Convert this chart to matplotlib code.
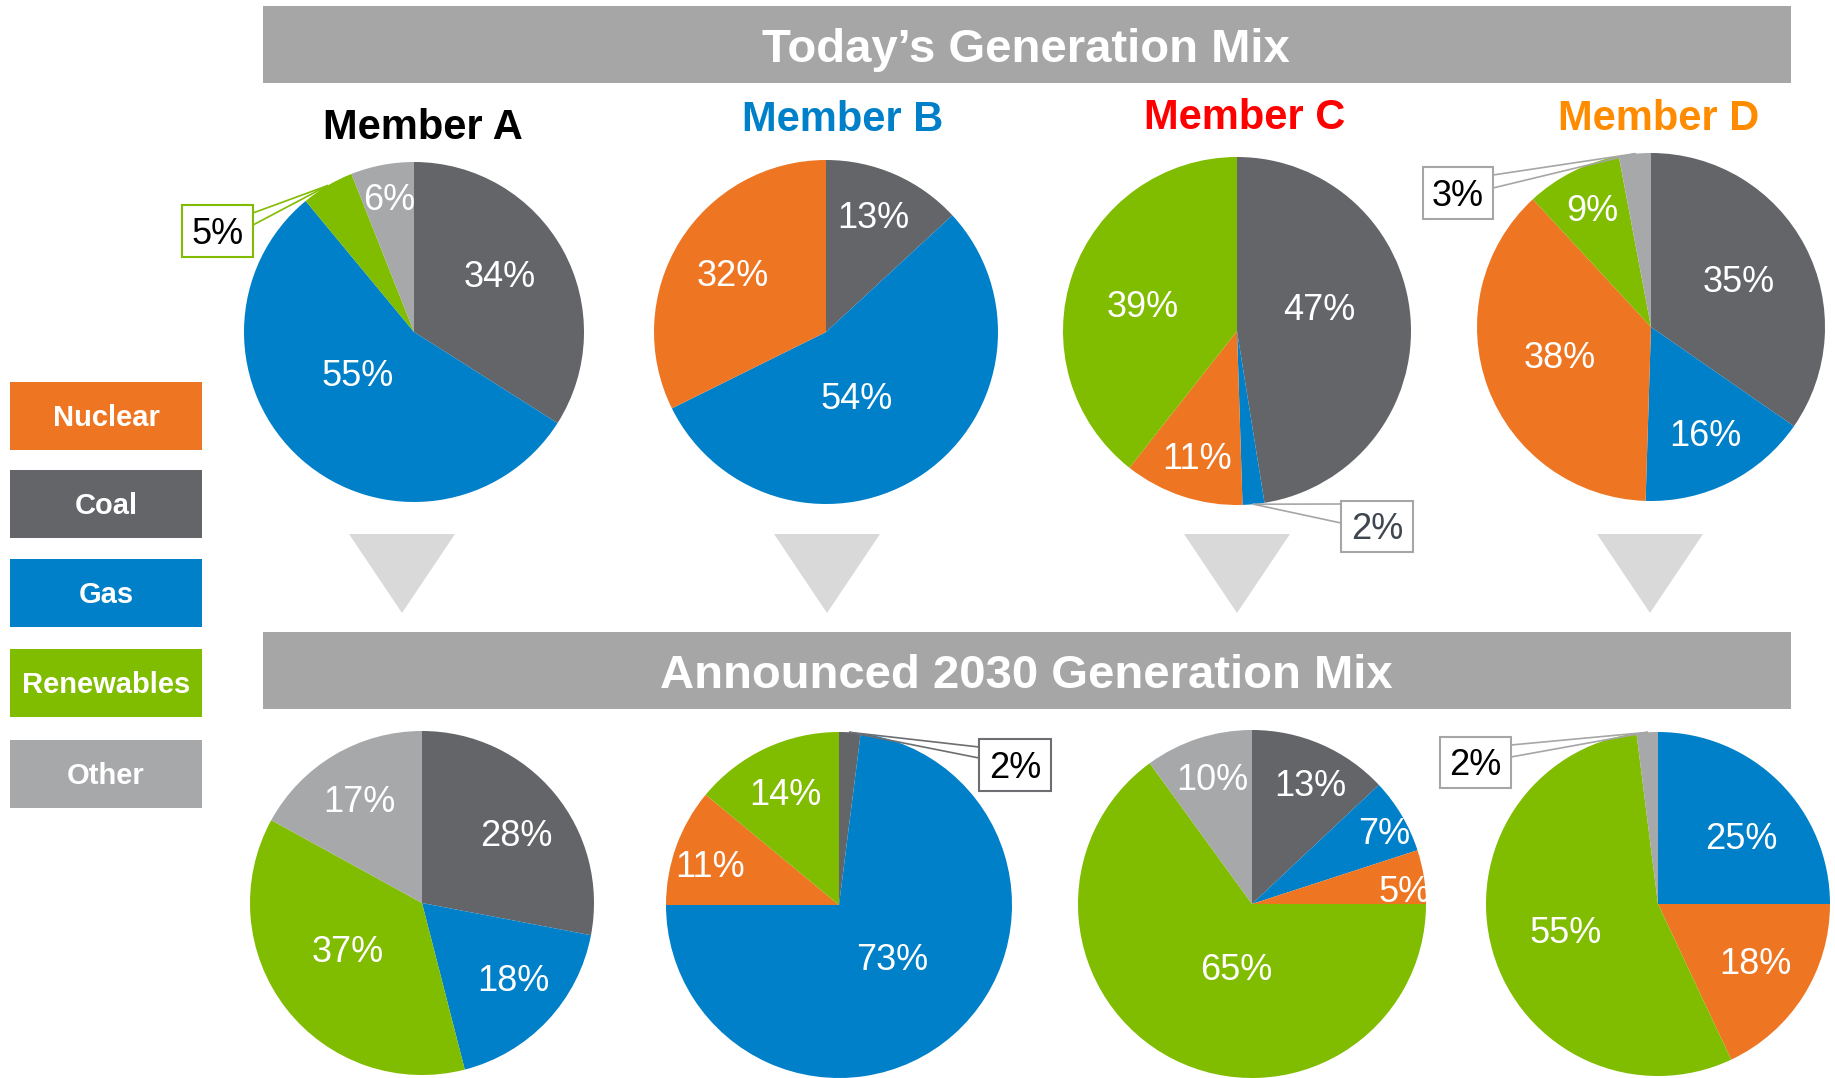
import matplotlib.pyplot as plt
from matplotlib.patches import Rectangle, Polygon
from matplotlib.transforms import Bbox, TransformedBbox
import numpy as np

plt.rcParams['font.family'] = ['Liberation Sans', 'DejaVu Sans']

#### data: shares in %, clockwise from 12 o'clock in this order
pie_order = ['Coal', 'Gas', 'Nuclear', 'Renewables', 'Other']
legend_order = ['Nuclear', 'Coal', 'Gas', 'Renewables', 'Other']
members = ['Member A', 'Member B', 'Member C', 'Member D']

today_a = [34, 55, 0, 5, 6]
today_b = [13, 54, 32, 0, 0]
today_c = [47, 2, 11, 39, 0]
today_d = [35, 16, 38, 9, 3]

future_a = [28, 18, 0, 37, 17]
future_b = [2, 73, 11, 14, 0]
future_c = [13, 7, 5, 65, 10]
future_d = [0, 25, 18, 55, 2]

title_top = 'Today\u2019s Generation Mix'
title_bot = 'Announced 2030 Generation Mix'

#### styling
colors = {'Nuclear': '#EE7623', 'Coal': '#636569', 'Gas': '#0080C8',
          'Renewables': '#80BC00', 'Other': '#A7A8AA'}
member_colors = ['black', '#0080C8', '#FF0000', '#FF8C00']
banner_color = '#A6A6A6'
arrow_color = '#D9D9D9'

W, H = 1835, 1078
PX = 100 / 72.  # px per pt at dpi 100

fig = plt.figure(figsize=(W / 100, H / 100), dpi=100)
ax = fig.add_axes([0, 0, 1, 1])


def put(x, yc, s, size, **kw):
    # place text so that the cap height is centred on yc (pixel coords, y down)
    return ax.text(x, yc + 0.716 * size * PX / 2, s, fontsize=size,
                   ha='center', va='baseline', **kw)


# banners
for (y0, y1, txt) in [(6, 83, title_top), (632, 709, title_bot)]:
    ax.add_patch(Rectangle((263, y0), 1791 - 263, y1 - y0, color=banner_color, lw=0))
    put(1026, (y0 + y1) / 2 + 1, txt, 34, color='white', fontweight='bold')

# member titles
title_x = [423, 843, 1245, 1659]
title_y = [124, 116, 114, 115]
for name, x, y, c in zip(members, title_x, title_y, member_colors):
    put(x, y, name, 30, color=c, fontweight='bold')

# legend
leg_tops = [382, 470, 559, 649, 740]
for cat, top in zip(legend_order, leg_tops):
    ax.add_patch(Rectangle((10, top), 192, 68, color=colors[cat], lw=0))
    put(106, top + 34, cat, 21, color='white', fontweight='bold')

# arrows
for x in [402, 827, 1237, 1650]:
    ax.add_patch(Polygon([(x - 53, 534), (x + 53, 534), (x, 613)],
                         closed=True, color=arrow_color, lw=0))

# pies: (values, centre, radius, label positions, callout)
pies = [
    (today_a, (414, 332), 170,
     {'Coal': (500, 274), 'Gas': (358, 373), 'Other': (389, 197)},
     ('Renewables', (182, 205, 253, 257), 'right', (213, 225), '#80BC00', 'black')),
    (today_b, (826, 332), 172,
     {'Coal': (873, 215), 'Gas': (857, 396), 'Nuclear': (733, 273)}, None),
    (today_c, (1237, 331), 174,
     {'Coal': (1319, 307), 'Nuclear': (1197, 456), 'Renewables': (1143, 304)},
     ('Gas', (1341, 501, 1413, 552), 'left', (504, 523), '#A6A6A6', '#3F4650')),
    (today_d, (1651, 327), 174,
     {'Coal': (1739, 279), 'Gas': (1705, 433), 'Nuclear': (1560, 355),
      'Renewables': (1592, 208)},
     ('Other', (1423, 167, 1493, 219), 'right', (175, 188), '#A6A6A6', 'black')),
    (future_a, (422, 903), 172,
     {'Coal': (516, 833), 'Gas': (513, 978), 'Renewables': (348, 949),
      'Other': (359, 799)}, None),
    (future_b, (839, 905), 173,
     {'Gas': (892, 957), 'Nuclear': (710, 864), 'Renewables': (785, 792)},
     ('Coal', (979, 739, 1051, 791), 'left', (747, 758), '#6D6E71', 'black')),
    (future_c, (1252, 904), 174,
     {'Coal': (1310, 783), 'Gas': (1384, 831), 'Nuclear': (1405, 889),
      'Renewables': (1236, 967), 'Other': (1212, 777)}, None),
    (future_d, (1658, 904), 172,
     {'Gas': (1741, 836), 'Nuclear': (1755, 961), 'Renewables': (1566, 930)},
     ('Other', (1440, 737, 1511, 788), 'right', (745, 757), '#A6A6A6', 'black')),
]

for vals, center, r, lab_pos, callout in pies:
    # y axis is inverted below, so counterclock in data = clockwise on screen
    wedges, _ = ax.pie(vals, colors=[colors[c] for c in pie_order], center=center,
                       radius=r, startangle=-90, counterclock=True,
                       wedgeprops={'linewidth': 0})
    for cat, v in zip(pie_order, vals):
        if cat in lab_pos:
            t = put(lab_pos[cat][0], lab_pos[cat][1], f'{v}%', 26, color='white')
            # the 5% label of member C 2030 is cut at the pie edge
            if lab_pos[cat][0] + 26 > center[0] + r:
                t.set_clip_box(TransformedBbox(
                    Bbox([[center[0] - r, center[1] - r], [center[0] + r, center[1] + r]]),
                    ax.transData))
                t.set_clip_on(True)
    if callout:
        cat, (x0, y0, x1, y1), side, (ya, yb), lc, tc = callout
        w = wedges[pie_order.index(cat)]
        mid = np.deg2rad((w.theta1 + w.theta2) / 2)
        px, py = center[0] + r * np.cos(mid), center[1] + r * np.sin(mid)
        ex = x1 if side == 'right' else x0
        for ye in (ya, yb):
            ax.plot([ex, px], [ye, py], color=lc, lw=1.2, zorder=4)
        ax.add_patch(Rectangle((x0, y0), x1 - x0, y1 - y0, facecolor='white',
                               edgecolor=lc, lw=1.5, zorder=5))
        t = put((x0 + x1) / 2, (y0 + y1) / 2, f'{vals[pie_order.index(cat)]}%', 26, color=tc)
        t.set_zorder(6)

ax.set_xlim(0, W)
ax.set_ylim(H, 0)
ax.set_aspect('auto')
ax.axis('off')

plt.savefig('out.png', dpi=100)
